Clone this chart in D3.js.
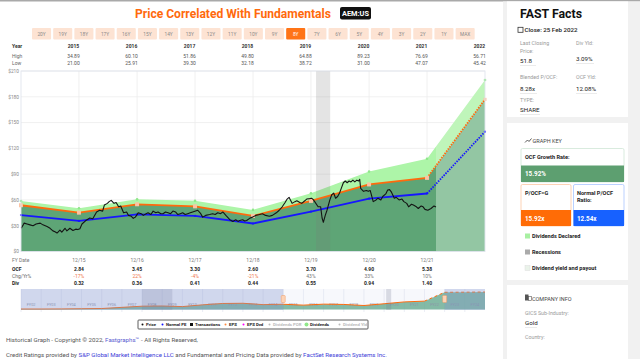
<!DOCTYPE html>
<html><head><meta charset="utf-8">
<script src="https://cdn.jsdelivr.net/npm/d3@7"></script>
<style>body{margin:0;background:#fff;}svg{display:block;font-family:Roboto,"Noto Sans",sans-serif;}</style>
</head><body><svg id="c" width="640" height="359"></svg>
<script>
// ---------- DATA ----------
const rangeButtons = ["20Y","19Y","18Y","17Y","16Y","15Y","14Y","13Y","12Y","11Y","10Y","9Y","8Y","7Y","6Y","5Y","4Y","3Y","2Y","1Y","MAX"];
const activeRange = "8Y";
const years = ["2015","2016","2017","2018","2019","2020","2021","2022"];
const highs = ["34.89","60.10","51.86","49.80","64.88","89.23","76.69","56.71"];
const lows  = ["21.00","25.91","39.30","32.18","38.72","31.00","47.07","45.42"];
const fyDates = ["2014-12-31","2015-12-31","2016-12-31","2017-12-31","2018-12-31","2019-12-31","2020-12-31","2021-12-31","2022-12-31"];
const ocfValues = [3.38,2.84,3.45,3.30,2.60,3.70,4.90,5.38,11.12];
const divValues = [0.31,0.32,0.36,0.41,0.44,0.55,0.94,1.40,1.41];
const growthMultiple = 15.92;
const normalMultiple = 12.54;
const tableFy  = ["12/15","12/16","12/17","12/18","12/19","12/20","12/21"];
const tableOcf = ["2.84","3.45","3.30","2.60","3.70","4.90","5.38"];
const tableChg = ["-17%","22%","-4%","-21%","43%","33%","10%"];
const tableDiv = ["0.32","0.36","0.41","0.44","0.55","0.94","1.40"];
const yTicks = [0,30,60,90,120,150,180,210];
const recession = ["2020-02-01","2020-04-30"];
const priceEnd = "2022-02-25";
const priceSeries = [
["2015-01-01",27],["2015-01-14",31],["2015-01-20",33],["2015-02-07",32],["2015-02-26",31],["2015-03-17",30],["2015-04-05",32],["2015-05-01",33],["2015-05-18",31],["2015-06-13",29],["2015-07-02",27],["2015-07-20",24],["2015-08-02",23],["2015-08-15",21.5],["2015-09-02",25],["2015-09-14",22.5],["2015-10-04",27],["2015-10-16",24],["2015-11-04",27],["2015-11-23",24.5],["2015-12-11",26],["2015-12-24",25.5],
["2016-01-06",26.5],["2016-01-19",32],["2016-02-12",36],["2016-03-08",39],["2016-03-27",38],["2016-04-20",46],["2016-05-09",48],["2016-05-28",47],["2016-06-08",54],["2016-06-27",56],["2016-07-08",58],["2016-07-21",59.5],["2016-08-08",56],["2016-08-21",57],["2016-09-06",52],["2016-09-19",53],["2016-10-07",45],["2016-10-26",46],["2016-11-07",42],["2016-11-25",41],["2016-12-07",38.6],["2016-12-20",40],
["2017-01-07",45],["2017-01-26",44],["2017-02-08",42],["2017-02-26",44],["2017-03-10",45],["2017-03-28",43],["2017-04-11",47],["2017-04-28",45],["2017-05-12",46],["2017-05-30",44],["2017-06-12",44],["2017-06-28",46],["2017-07-14",45],["2017-07-30",44],["2017-08-14",47],["2017-08-30",46],["2017-09-14",43],["2017-09-29",44],["2017-10-14",45],["2017-10-30",43],["2017-11-15",44],["2017-12-01",45],["2017-12-16",46],
["2018-01-17",48],["2018-02-05",44],["2018-02-17",40],["2018-03-08",42],["2018-04-02",43],["2018-04-21",44],["2018-05-07",43],["2018-05-23",45],["2018-06-10",44],["2018-06-24",46],["2018-07-13",42],["2018-08-07",37],["2018-08-26",35],["2018-09-13",37],["2018-09-28",35],["2018-10-08",36],["2018-10-27",37],["2018-11-09",35.5],["2018-11-21",36],["2018-12-10",38.6],["2018-12-28",40],
["2019-01-17",42],["2019-02-10",43],["2019-03-01",44],["2019-03-20",42],["2019-04-13",41],["2019-05-02",42],["2019-05-27",45],["2019-06-14",48],["2019-07-03",52],["2019-07-21",57],["2019-08-03",61],["2019-08-15",63],["2019-09-03",56],["2019-09-21",58],["2019-10-03",59],["2019-10-22",57],["2019-11-03",56],["2019-11-22",59],["2019-12-04",61],["2019-12-23",61.5],
["2020-01-04",62],["2020-01-16",60],["2020-02-14",52],["2020-03-01",52],["2020-03-10",39],["2020-03-18",34],["2020-03-30",42],["2020-04-10",48],["2020-04-28",60],["2020-05-10",66],["2020-05-22",68],["2020-06-03",62],["2020-06-16",64],["2020-06-28",68],["2020-07-10",74],["2020-07-22",80],["2020-08-03",82],["2020-08-15",80],["2020-08-27",82],["2020-09-08",81],["2020-09-20",83],["2020-10-02",81],["2020-10-15",83],["2020-10-27",82],["2020-11-02",84],["2020-11-08",73.5],["2020-11-26",70],["2020-12-14",71],["2020-12-26",70],
["2021-01-07",71],["2021-01-26",58],["2021-02-13",60],["2021-02-25",62],["2021-03-15",60],["2021-03-27",64],["2021-04-15",67],["2021-04-27",71.5],["2021-05-09",72],["2021-05-21",69],["2021-06-08",62],["2021-06-20",63],["2021-07-08",60],["2021-07-26",61],["2021-08-07",58],["2021-08-25",56],["2021-09-06",52],["2021-09-24",55],["2021-10-06",54],["2021-10-25",52],["2021-11-06",50],["2021-11-24",53],["2021-12-06",52],["2021-12-18",49],
["2022-01-05",48],["2022-01-25",50],["2022-02-13",53],["2022-02-25",51.8]
];
const navYears = ["FY02","FY03","FY04","FY05","FY06","FY07","FY08","FY09","FY10","FY11","FY12","FY13","FY14","FY15","FY16","FY17","FY18","FY19","FY20","FY21","FY22","FY23","FY24"];
const navValues = [5,6,8,10,22,34,36,30,48,62,64,50,54,45,55,52,41,59,78,86,177,178,180];
const legendItems = [["Price","#111","dot"],["Normal PE","#1515ff","dot"],["Transactions","#111","sq"],["EPS","#ff8a3d","dot"],["EPS Dvd","#ff00ff","dot"],["Dividends POR","#bbb","dot"],["Dividends","#8fe88a","big"],["Dividend Yld","#bbb","dot"]];

// ---------- SETUP ----------
const svg = d3.select("#c");
const parse = d3.timeParse("%Y-%m-%d");
const PL = 21, PR = 485, PT = 71, PB = 251.5;
const x = d3.scaleTime().domain([parse("2014-12-31"), parse("2022-12-31")]).range([PL, PR]);
const y = d3.scaleLinear().domain([0, 210]).range([PB, PT]);
const endX = x(parse(priceEnd));
// scale a text's font size so that its natural width equals target
function fitWidth(sel, target){
  const fs = parseFloat(sel.attr("font-size"));
  const w = sel.node().getComputedTextLength();
  if (w > 0) sel.attr("font-size", (fs * target / w).toFixed(3));
}

svg.append("rect").attr("x",0).attr("y",0).attr("width",640).attr("height",359).attr("fill","#fff");
svg.append("rect").attr("x",0).attr("y",0).attr("width",640).attr("height",1.5).attr("fill","#a9a9a9");

// Title
const title = svg.append("text").attr("x",135).attr("y",17.5).attr("font-size",13.5).attr("font-weight",700)
  .attr("fill","#ff6a0d").text("Price Correlated With Fundamentals");
fitWidth(title, 196);
svg.append("rect").attr("x",340).attr("y",7).attr("width",31).attr("height",12.5).attr("rx",2).attr("fill","#111");
const badge = svg.append("text").attr("x",355.5).attr("y",16.3).attr("text-anchor","middle").attr("font-size",8)
  .attr("font-weight",700).attr("fill","#fff").text("AEM:US");
fitWidth(badge, 27);

// Range buttons
const bx = d3.scaleBand().domain(rangeButtons).range([32, 32 + 21.08*21]).paddingInner(0.1);
const btn = svg.append("g").selectAll("g").data(rangeButtons).join("g");
btn.append("rect").attr("x",d=>bx(d)).attr("y",28).attr("width",bx.bandwidth()).attr("height",11.5).attr("rx",1)
  .attr("fill",d=>d===activeRange?"#ff7417":"#fde3d3");
btn.append("text").attr("x",d=>bx(d)+bx.bandwidth()/2).attr("y",35.5).attr("text-anchor","middle")
  .attr("font-size",4.8).attr("fill",d=>d===activeRange?"#fff":"#8a8a8a").text(d=>d);

// Top table
const yearX = d => x(parse(d + "-12-31")) - 5.5;
const tt = svg.append("g").attr("font-size",5);
tt.append("text").attr("x",12).attr("y",48).attr("font-weight",700).attr("fill","#333").text("Year");
tt.append("text").attr("x",12).attr("y",57.7).attr("fill","#666").text("High");
tt.append("text").attr("x",12).attr("y",64.5).attr("fill","#666").text("Low");
tt.selectAll(".yr").data(years).join("text").attr("x",yearX).attr("y",48).attr("text-anchor","middle")
  .attr("font-weight",700).attr("fill","#333").text(d=>d);
tt.selectAll(".hi").data(highs).join("text").attr("x",(d,i)=>yearX(years[i])).attr("y",57.7).attr("text-anchor","middle")
  .attr("fill","#555").text(d=>d);
tt.selectAll(".lo").data(lows).join("text").attr("x",(d,i)=>yearX(years[i])).attr("y",64.5).attr("text-anchor","middle")
  .attr("fill","#555").text(d=>d);

// Grid
const g = svg.append("g");
g.selectAll(".hg").data(yTicks).join("line").attr("x1",PL).attr("x2",PR).attr("y1",d=>y(d)).attr("y2",d=>y(d))
  .attr("stroke","#ececec").attr("stroke-width",0.8);
g.selectAll(".vg").data(fyDates.slice(1,8)).join("line").attr("x1",d=>x(parse(d))).attr("x2",d=>x(parse(d)))
  .attr("y1",PT).attr("y2",PB).attr("stroke","#ececec").attr("stroke-width",0.8);
svg.append("g").selectAll("text").data(yTicks).join("text").attr("x",19).attr("y",d=>y(d)+1.8)
  .attr("text-anchor","end").attr("font-size",4.8).attr("fill","#888").text(d=>"$"+d);

// Fundamentals
const fy = fyDates.map((d,i)=>({date:parse(d), o:ocfValues[i]*growthMultiple, g:(ocfValues[i]+divValues[i])*growthMultiple, n:ocfValues[i]*normalMultiple}));
const defs = svg.append("defs");
defs.append("clipPath").attr("id","hist").append("rect").attr("x",PL).attr("y",0).attr("width",endX-PL).attr("height",359);
defs.append("clipPath").attr("id","fut").append("rect").attr("x",endX).attr("y",0).attr("width",PR-endX).attr("height",359);
const band = d3.area().x(d=>x(d.date)).y0(d=>y(d.o)).y1(d=>y(d.g));
const dark = d3.area().x(d=>x(d.date)).y0(y(0)).y1(d=>y(d.o));
svg.append("path").datum(fy).attr("d",band).attr("fill","#adf5a8").attr("clip-path","url(#hist)");
svg.append("path").datum(fy).attr("d",dark).attr("fill","#5ea576").attr("clip-path","url(#hist)");
svg.append("path").datum(fy).attr("d",band).attr("fill","#bff5ba").attr("clip-path","url(#fut)");
svg.append("path").datum(fy).attr("d",dark).attr("fill","#93c6a3").attr("clip-path","url(#fut)");

// Recession
svg.append("rect").attr("x",x(parse(recession[0]))).attr("y",PT).attr("width",x(parse(recession[1]))-x(parse(recession[0])))
  .attr("height",PB-PT).attr("fill","rgba(120,120,120,0.2)");

// Lines
const lo = d3.line().x(d=>x(d.date)).y(d=>y(d.o));
const ln = d3.line().x(d=>x(d.date)).y(d=>y(d.n));
svg.append("path").datum(fy.slice(0,8)).attr("d",ln).attr("fill","none").attr("stroke","#1616ff").attr("stroke-width",1.8);
svg.append("path").datum(fy.slice(7)).attr("d",ln).attr("fill","none").attr("stroke","#1616ff").attr("stroke-width",1.8).attr("stroke-dasharray","1.5,1.2");
svg.append("path").datum(fy.slice(0,8)).attr("d",lo).attr("fill","none").attr("stroke","#ff6a0d").attr("stroke-width",1.8);
svg.append("path").datum(fy.slice(7)).attr("d",lo).attr("fill","none").attr("stroke","#ff6a0d").attr("stroke-width",1.8).attr("stroke-dasharray","1.5,1.2");
svg.append("g").selectAll("circle").data(fy).join("circle").attr("cx",d=>x(d.date)).attr("cy",d=>y(d.g)).attr("r",1.3).attr("fill","#8fe88a");
svg.append("g").selectAll("circle").data(fy).join("circle").attr("cx",d=>x(d.date)).attr("cy",d=>y(d.n)).attr("r",1.1).attr("fill","#1616ff");
svg.append("g").selectAll("rect").data(fy.slice(0,8)).join("rect").attr("x",d=>x(d.date)-2).attr("y",d=>y(d.o)-2)
  .attr("width",4).attr("height",4).attr("fill","#fbc3a4");
svg.append("rect").attr("x",x(fy[8].date)-1.5).attr("y",y(fy[8].o)-1.5).attr("width",3).attr("height",3).attr("fill","#fbc3a4");

// Price
const lp = d3.line().x(d=>x(parse(d[0]))).y(d=>y(d[1]));
svg.append("path").datum(priceSeries).attr("d",lp).attr("fill","none").attr("stroke","#141414").attr("stroke-width",1.1).attr("stroke-linejoin","round");

// Plot border
svg.append("rect").attr("x",PL).attr("y",PT).attr("width",PR-PL).attr("height",PB-PT).attr("fill","none").attr("stroke","#e1e4ee").attr("stroke-width",0.9);

// Bottom table
const bt = svg.append("g").attr("font-size",5);
const fyX = (d,i)=>x(fy[i+1].date);
bt.append("text").attr("x",12).attr("y",262).attr("fill","#777").text("FY Date");
bt.append("text").attr("x",12).attr("y",270.5).attr("fill","#222").attr("font-weight",700).text("OCF");
bt.append("text").attr("x",12).attr("y",277.5).attr("fill","#666").text("Chg/Yr%");
bt.append("text").attr("x",12).attr("y",284.5).attr("fill","#222").attr("font-weight",700).text("Div");
bt.selectAll(".f").data(tableFy).join("text").attr("x",fyX).attr("y",262).attr("text-anchor","middle").attr("fill","#777").text(d=>d);
bt.selectAll(".o").data(tableOcf).join("text").attr("x",fyX).attr("y",270.5).attr("text-anchor","middle").attr("font-weight",700).attr("fill","#222").text(d=>d);
bt.selectAll(".c").data(tableChg).join("text").attr("x",fyX).attr("y",277.5).attr("text-anchor","middle").attr("fill",(d,i)=>i<4?"#f0764a":"#777").text(d=>d);
bt.selectAll(".d").data(tableDiv).join("text").attr("x",fyX).attr("y",284.5).attr("text-anchor","middle").attr("font-weight",700).attr("fill","#222").text(d=>d);

// Navigator
const navX = d3.scaleLinear().domain([2002, 2025]).range([PL, PR]);
const navY = d3.scaleLinear().domain([0, 180]).range([309.5, 292]);
const NT = 289, NB = 310;
const nav = svg.append("g");
nav.append("rect").attr("x",PL).attr("y",NT).attr("width",PR-PL).attr("height",NB-NT).attr("fill","#f7f8fc");
nav.selectAll(".nl").data(navYears).join("line").attr("x1",(d,i)=>navX(2002+i)).attr("x2",(d,i)=>navX(2002+i))
  .attr("y1",NT).attr("y2",NB+2).attr("stroke","#dde1ee").attr("stroke-width",0.6);
const navPts = navValues.map((v,i)=>({x:navX(2003+i), v}));
navPts.unshift({x:navX(2002), v:navValues[0]});
nav.append("path").datum(navPts).attr("d",d3.area().x(d=>d.x).y0(navY(0)).y1(d=>navY(d.v))).attr("fill","#5ea58a").attr("opacity",0.75);
nav.selectAll(".nt").data(navYears).join("text").attr("x",(d,i)=>navX(2002.5+i)).attr("y",306.3).attr("text-anchor","middle")
  .attr("font-size",3.8).attr("fill","#8d93a8").text(d=>d);
nav.append("path").datum(navPts.slice(0,21)).attr("d",d3.line().x(d=>d.x).y(d=>navY(d.v))).attr("fill","none").attr("stroke","#ff6a0d").attr("stroke-width",1);
nav.append("path").datum(navPts.slice(20)).attr("d",d3.line().x(d=>d.x).y(d=>navY(d.v))).attr("fill","none").attr("stroke","#ff6a0d").attr("stroke-width",1).attr("stroke-dasharray","3,2.5");
nav.append("rect").attr("x",navX(2008)).attr("y",NT).attr("width",navX(2009.5)-navX(2008)).attr("height",NB-NT).attr("fill","rgba(110,115,140,0.22)");
nav.append("rect").attr("x",navX(2020.1)).attr("y",NT).attr("width",navX(2020.35)-navX(2020.1)).attr("height",NB-NT).attr("fill","rgba(110,115,140,0.22)");
const selA = navX(2015), selB = navX(2023);
nav.append("rect").attr("x",PL).attr("y",NT).attr("width",selA-PL).attr("height",NB-NT).attr("fill","rgba(130,150,205,0.33)");
nav.append("rect").attr("x",selB).attr("y",NT).attr("width",PR-selB).attr("height",NB-NT).attr("fill","rgba(130,150,205,0.33)");
[selA, selB].forEach(hx=>{
  nav.append("rect").attr("x",hx-2).attr("y",295.5).attr("width",4).attr("height",7).attr("rx",0.8).attr("fill","#fcd3b6").attr("stroke","#f39a60").attr("stroke-width",0.5);
});

// Legend
const lg = svg.append("g");
lg.append("rect").attr("x",138).attr("y",320).attr("width",230).attr("height",9).attr("fill","#fff").attr("stroke","#333").attr("stroke-width",0.8).attr("rx",0.8);
const legX = [141,161,190,224,242,268,305,338];
legendItems.forEach((it,i)=>{
  const lx = legX[i];
  if(it[2]==="sq") lg.append("rect").attr("x",lx).attr("y",323).attr("width",3).attr("height",3).attr("fill",it[1]);
  else lg.append("circle").attr("cx",lx+1.5).attr("cy",324.5).attr("r",it[2]==="big"?2:1).attr("fill",it[1]);
  lg.append("text").attr("x",lx+5).attr("y",326.2).attr("font-size",4.3).attr("font-weight",700)
    .attr("fill",(i===5||i===7)?"#bbb":"#222").text(it[0]);
});

// Footer
const f1 = svg.append("text").attr("x",6).attr("y",342).attr("font-size",8).attr("fill","#555");
f1.append("tspan").text("Historical Graph - Copyright © 2022, ");
f1.append("tspan").attr("fill","#5a5ad0").text("Fastgraphs™");
f1.append("tspan").text(" - All Rights Reserved,");
fitWidth(f1, 192);
const f2 = svg.append("text").attr("x",6).attr("y",357).attr("font-size",7.6).attr("fill","#555");
f2.append("tspan").text("Credit Ratings provided by ");
f2.append("tspan").attr("fill","#3d3dd8").text("S&P Global Market Intelligence LLC");
f2.append("tspan").text(" and Fundamental and Pricing Data provided by ");
f2.append("tspan").attr("fill","#3d3dd8").text("FactSet Research Systems Inc.");
fitWidth(f2, 381);

// ---------- RIGHT PANEL ----------
const rp = svg.append("g");
rp.append("rect").attr("x",503).attr("y",1.5).attr("width",137).attr("height",358).attr("fill","#f1f1f1");
rp.append("rect").attr("x",507).attr("y",1.5).attr("width",121).attr("height",115.5).attr("fill","#fff");
rp.append("rect").attr("x",507).attr("y",123).attr("width",121).attr("height",157).attr("fill","#fff");
rp.append("rect").attr("x",507).attr("y",285).attr("width",121).attr("height",74).attr("fill","#fff");
const ff = rp.append("text").attr("x",520).attr("y",17.5).attr("font-size",12.6).attr("font-weight",700).attr("fill","#111").text("FAST Facts");
fitWidth(ff, 62);
rp.append("rect").attr("x",518).attr("y",27.3).attr("width",5).attr("height",5).attr("fill","none").attr("stroke","#333").attr("stroke-width",0.8);
rp.append("text").attr("x",524.5).attr("y",32.3).attr("font-size",6.2).attr("font-weight",500).attr("fill","#222").text("Close: 25 Feb 2022");
const lab = (t,xx,yy)=>rp.append("text").attr("x",xx).attr("y",yy).attr("font-size",5.3).attr("fill","#9a9a9a").text(t);
const val = (t,xx,yy,w)=>{rp.append("text").attr("x",xx).attr("y",yy).attr("font-size",6.2).attr("fill","#222").text(t);
  rp.append("line").attr("x1",xx).attr("x2",xx+w).attr("y1",yy+2.5).attr("y2",yy+2.5).attr("stroke","#ddd").attr("stroke-width",0.6);};
lab("Last Closing",520,45); lab("Price:",520,53); val("51.8",520,63,16);
lab("Div Yld:",576,45); val("3.09%",576,61,18);
lab("Blended P/OCF:",520,79); val("8.28x",520,91,17);
lab("OCF Yld:",576,79); val("12.08%",576,91,21);
lab("TYPE:",520,102); val("SHARE",520,112,20);

// Graph key
rp.append("path").attr("d","M525,142.5 L527.5,140 L529,141.5 L531.5,138.5").attr("fill","none").attr("stroke","#333").attr("stroke-width",0.8);
rp.append("text").attr("x",532.5).attr("y",142.5).attr("font-size",5.5).attr("fill","#444").text("GRAPH KEY");
rp.append("rect").attr("x",521).attr("y",148.5).attr("width",103).attr("height",33.5).attr("rx",1.5).attr("fill","#fff").attr("stroke","#cfe6d5").attr("stroke-width",0.8);
rp.append("rect").attr("x",521).attr("y",165.5).attr("width",103).attr("height",16.5).attr("fill","#5d9f70");
rp.append("text").attr("x",525).attr("y",159).attr("font-size",5.6).attr("font-weight",700).attr("fill","#222").text("OCF Growth Rate:");
rp.append("text").attr("x",525).attr("y",176).attr("font-size",6.3).attr("font-weight",700).attr("fill","#fff").text("15.92%");
rp.append("rect").attr("x",521).attr("y",184.5).attr("width",50).attr("height",41.5).attr("rx",1.5).attr("fill","#fff").attr("stroke","#fcc8a3").attr("stroke-width",0.8);
rp.append("rect").attr("x",521).attr("y",210).attr("width",50).attr("height",16).attr("fill","#ff6c06");
rp.append("text").attr("x",525).attr("y",194.5).attr("font-size",5.6).attr("font-weight",700).attr("fill","#222").text("P/OCF=G");
rp.append("text").attr("x",525).attr("y",220.5).attr("font-size",6.3).attr("font-weight",700).attr("fill","#fff").text("15.92x");
rp.append("rect").attr("x",573.5).attr("y",184.5).attr("width",50.5).attr("height",41.5).attr("rx",1.5).attr("fill","#fff").attr("stroke","#aac5ff").attr("stroke-width",0.8);
rp.append("rect").attr("x",573.5).attr("y",210).attr("width",50.5).attr("height",16).attr("fill","#1761ff");
rp.append("text").attr("x",577).attr("y",194.5).attr("font-size",5.6).attr("font-weight",700).attr("fill","#222").text("Normal P/OCF");
rp.append("text").attr("x",577).attr("y",201.5).attr("font-size",5.6).attr("font-weight",700).attr("fill","#222").text("Ratio:");
rp.append("text").attr("x",577).attr("y",220.5).attr("font-size",6.3).attr("font-weight",700).attr("fill","#fff").text("12.54x");
const keys = [["Dividends Declared","#a8f0a2",236],["Recessions","#aaaaaa",252],["Dividend yield and payout","#eaf3ea",268]];
keys.forEach(k=>{
  rp.append("rect").attr("x",525).attr("y",k[2]-2.5).attr("width",5).attr("height",5).attr("fill",k[1]).attr("stroke",k[2]===268?"#ddd":"none").attr("stroke-width",0.5);
  rp.append("text").attr("x",532).attr("y",k[2]+2).attr("font-size",5.6).attr("font-weight",700).attr("fill","#222").text(k[0]);
});

// Company info
rp.append("rect").attr("x",525).attr("y",294.5).attr("width",3.5).attr("height",6).attr("fill","#555");
rp.append("rect").attr("x",528.5).attr("y",296.5).attr("width",3).attr("height",4).attr("fill","none").attr("stroke","#555").attr("stroke-width",0.6);
rp.append("text").attr("x",532).attr("y",300.5).attr("font-size",5.5).attr("fill","#444").text("COMPANY INFO");
lab("GICS Sub-Industry:",525,315); val("Gold",525,325,12);
lab("Country:",525,339);
</script></body></html>
